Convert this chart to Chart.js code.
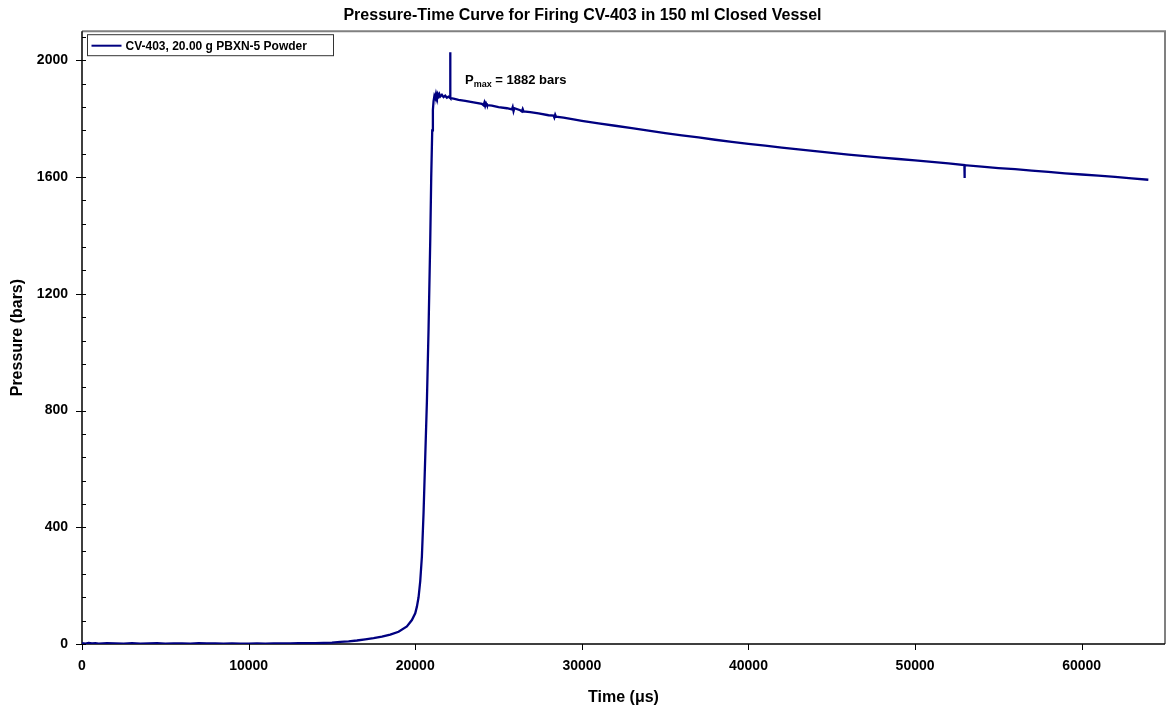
<!DOCTYPE html>
<html>
<head>
<meta charset="utf-8">
<title>Pressure-Time Curve CV-403</title>
<script src="https://cdn.jsdelivr.net/npm/chart.js@4.4.1/dist/chart.umd.min.js"></script>
<style>
  html, body { margin: 0; padding: 0; background: #fff; }
  #wrap { width: 1166px; height: 713px; }
</style>
</head>
<body>
<div id="wrap"><canvas id="ptCurve"></canvas></div>
<script>
// firing record, time in microseconds, pressure in bars
var timeUs = [
  0, 200, 400, 600, 800, 1000, 1500, 2000, 2500, 3000, 3500, 4000, 4500, 5000,
  5500, 6000, 6500, 7000, 7500, 8000, 8500, 9000, 9500, 10000, 10500, 11000,
  11500, 12000, 12500, 13000, 13500, 14000, 15000, 15500, 16000, 16500, 17000,
  17500, 18000, 18500, 19000, 19500, 19800, 20000, 20100, 20200, 20300, 20400,
  20500, 20600, 20700, 20800, 20900, 20960, 21020, 21060, 21100, 21150, 21200,
  21250, 21300, 21350, 21400, 21450, 21500, 21600, 21700, 21800, 21900, 22000,
  22090, 22100, 22110, 22300, 22600, 23000, 23500, 24000, 24100, 24150, 24200,
  24250, 24300, 24600, 25000, 25500, 25800, 25850, 25900, 25950, 26300, 26400,
  26450, 26500, 26900, 27400, 28000, 28300, 28350, 28400, 28450, 28900, 29500,
  30000, 31000, 32000, 33000, 34000, 35000, 36000, 37000, 38000, 39000, 40000,
  41000, 42000, 43000, 44000, 45000, 46000, 47000, 48000, 49000, 50000, 51000,
  52000, 52960, 52970, 52980, 54000, 55000, 56000, 57000, 58000, 59000, 60000,
  61000, 62000, 63000, 64000
];
var pressureBar = [
  3, 1, 4, 2, 3, 1, 3, 2, 1, 3, 1, 2, 3, 1,
  2, 2, 1, 3, 2, 2, 1, 2, 1, 1, 2, 1,
  2, 2, 2, 3, 3, 3, 5, 7, 9, 12, 16,
  20, 25, 32, 42, 60, 82, 105, 128, 160, 215, 300,
  450, 640, 830, 1080, 1380, 1600, 1760, 1830, 1860, 1878, 1871,
  1886, 1875, 1885, 1877, 1884, 1876, 1882, 1874, 1879, 1872, 1876,
  1872, 2028, 1871, 1869, 1865, 1861, 1856, 1851, 1846, 1855, 1844,
  1853, 1847, 1845, 1840, 1836, 1832, 1840, 1826, 1836, 1829, 1825,
  1833, 1825, 1823, 1818, 1812, 1811, 1804, 1814, 1807, 1804, 1798,
  1793, 1784, 1776, 1768, 1759, 1751, 1743, 1736, 1728, 1721, 1714,
  1708, 1701, 1695, 1689, 1683, 1677, 1672, 1667, 1662, 1657, 1652,
  1647, 1641, 1597, 1641, 1636, 1631, 1627, 1622, 1618, 1613, 1609,
  1605, 1601, 1596, 1591
];

var xTicks = [0, 10000, 20000, 30000, 40000, 50000, 60000];
var yTicks = [0, 400, 800, 1200, 1600, 2000];
var yMinorStep = 80;
var pmax = 1882;

var seriesName = 'CV-403, 20.00 g PBXN-5 Powder';
var fontFam = '"Liberation Sans", Arial, Helvetica, sans-serif';
var navy = '#000080';

var points = timeUs.map(function (t, i) { return { x: t, y: pressureBar[i] }; });

// axes, tick marks and the grey frame on top/right
var framePlugin = {
  id: 'frame',
  beforeDatasetsDraw: function (chart) {
    var c = chart.ctx, a = chart.chartArea;
    var xs = chart.scales.x, ys = chart.scales.y;
    c.save();
    c.strokeStyle = '#808080';
    c.lineWidth = 2;
    c.beginPath();
    c.moveTo(a.left, a.top);
    c.lineTo(a.right, a.top);
    c.lineTo(a.right, a.bottom);
    c.stroke();

    c.strokeStyle = '#000';
    c.lineWidth = 1.5;
    c.beginPath();
    c.moveTo(a.left, a.top);
    c.lineTo(a.left, a.bottom);
    c.lineTo(a.right, a.bottom);
    c.stroke();

    c.lineWidth = 1;
    c.beginPath();
    yTicks.forEach(function (v) {
      var y = Math.round(ys.getPixelForValue(v)) + 0.5;
      c.moveTo(a.left - 6, y);
      c.lineTo(a.left + 4, y);
    });
    for (var v = yMinorStep; v < ys.max; v += yMinorStep) {
      if (v % 400 === 0) continue;
      var y = Math.round(ys.getPixelForValue(v)) + 0.5;
      c.moveTo(a.left, y);
      c.lineTo(a.left + 4, y);
    }
    xTicks.forEach(function (v) {
      var x = Math.round(xs.getPixelForValue(v)) + 0.5;
      c.moveTo(x, a.bottom);
      c.lineTo(x, a.bottom + 6);
    });
    c.stroke();
    c.restore();
  },
  afterDraw: function (chart) {
    var c = chart.ctx, a = chart.chartArea;
    c.save();
    // legend box
    var bx = a.left + 5.5, by = a.top + 3.5;
    c.fillStyle = '#fff';
    c.fillRect(bx, by, 246, 21);
    c.strokeStyle = '#333';
    c.lineWidth = 1;
    c.strokeRect(bx, by, 246, 21);
    c.strokeStyle = navy;
    c.lineWidth = 2;
    c.beginPath();
    c.moveTo(bx + 4, by + 11);
    c.lineTo(bx + 34, by + 11);
    c.stroke();
    c.fillStyle = '#000';
    c.font = 'bold 12px ' + fontFam;
    c.textBaseline = 'middle';
    c.textAlign = 'left';
    c.fillText(seriesName, bx + 38, by + 11.5);

    // peak pressure note
    var tx = 465, ty = 84;
    c.textBaseline = 'alphabetic';
    c.font = 'bold 13px ' + fontFam;
    c.fillText('P', tx, ty);
    tx += c.measureText('P').width;
    c.font = 'bold 9px ' + fontFam;
    c.fillText('max', tx, ty + 3);
    tx += c.measureText('max').width;
    c.font = 'bold 13px ' + fontFam;
    c.fillText(' = ' + pmax + ' bars', tx, ty);
    c.restore();
  }
};

var ctx = document.getElementById('ptCurve').getContext('2d');
var chart = new Chart(ctx, {
  type: 'line',
  data: {
    datasets: [{
      label: seriesName,
      data: points,
      borderColor: navy,
      borderWidth: 2.3,
      pointRadius: 0,
      tension: 0,
      fill: false
    }]
  },
  options: {
    animation: false,
    responsive: true,
    maintainAspectRatio: false,
    layout: { padding: { right: 1 } },
    plugins: {
      legend: { display: false },
      tooltip: { enabled: false },
      title: {
        display: true,
        text: 'Pressure-Time Curve for Firing CV-403 in 150 ml Closed Vessel',
        color: '#000',
        font: { family: fontFam, size: 16, weight: 'bold' },
        padding: { top: 6, bottom: 6 }
      }
    },
    scales: {
      x: {
        type: 'linear',
        min: 0,
        max: 65000,
        grid: { display: false, drawTicks: false },
        border: { display: false },
        ticks: {
          color: '#000',
          font: { family: fontFam, size: 14, weight: 'bold' },
          padding: 14,
          autoSkip: false,
          maxRotation: 0,
          callback: function (v) { return String(v); }
        },
        afterBuildTicks: function (s) { s.ticks = xTicks.map(function (v) { return { value: v }; }); },
        afterFit: function (s) { s.height = 69; },
        title: {
          display: true,
          text: 'Time (μs)',
          color: '#000',
          font: { family: fontFam, size: 16, weight: 'bold' },
          padding: { top: 0, bottom: 6 }
        }
      },
      y: {
        min: 0,
        max: 2100,
        grid: { display: false, drawTicks: false },
        border: { display: false },
        ticks: {
          color: '#000',
          font: { family: fontFam, size: 14, weight: 'bold' },
          padding: 14,
          callback: function (v) { return String(v); }
        },
        afterBuildTicks: function (s) { s.ticks = yTicks.map(function (v) { return { value: v }; }); },
        afterFit: function (s) { s.width = 82; },
        title: {
          display: true,
          text: 'Pressure (bars)',
          color: '#000',
          font: { family: fontFam, size: 16, weight: 'bold' },
          padding: { top: 8, bottom: 0 }
        }
      }
    }
  },
  plugins: [framePlugin]
});
</script>
</body>
</html>
